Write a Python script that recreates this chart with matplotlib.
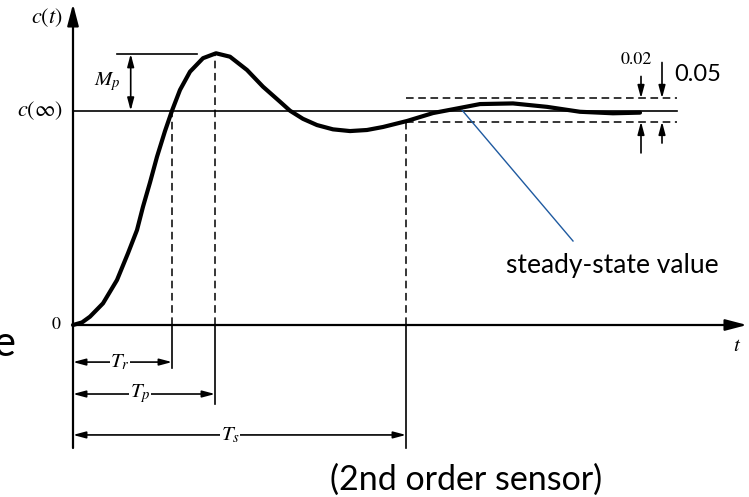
import matplotlib
matplotlib.use("Agg")
import matplotlib.pyplot as plt

plt.rcParams['mathtext.fontset'] = 'stix'

# step response: time and normalised output c(t)/c(inf)
t_curve = [0, 0.09, 0.17, 0.30, 0.44, 0.55, 0.64, 0.70, 0.77, 0.84, 0.92, 0.99, 1.07,
           1.17, 1.30, 1.43, 1.57, 1.74, 1.90, 2.07, 2.17, 2.30, 2.44, 2.60, 2.77,
           2.94, 3.10, 3.34, 3.60, 3.87, 4.07, 4.40, 4.74, 5.07, 5.40, 5.67]
c_curve = [0, 0.012, 0.039, 0.101, 0.210, 0.335, 0.443, 0.552, 0.665, 0.785, 0.905, 1.0, 1.097,
           1.182, 1.245, 1.268, 1.252, 1.190, 1.112, 1.042, 1.0, 0.962, 0.933, 0.913, 0.905,
           0.910, 0.924, 0.952, 0.989, 1.013, 1.031, 1.034, 1.018, 0.995, 0.988, 0.991]

c_final = 1.0
c_peak = 1.265
t_rise = 0.99
t_peak = 1.42
t_settle = 3.33
band_hi = 1.058
band_lo = 0.949
t_end = 6.04

fig = plt.figure(figsize=(7.49, 4.97), dpi=100)
ax = fig.add_axes([0, 0, 1, 1])
ax.set_xlim(-0.73, 6.76)
ax.set_ylim(-0.8026, 1.5166)
ax.axis('off')

black = 'black'
big_head = '-|>,head_length=0.65,head_width=0.17'
dim_head = '<|-|>,head_length=0.75,head_width=0.2'
one_head = '-|>,head_length=0.75,head_width=0.2'

def arrow(x0, y0, x1, y1, style, ms=20, lw=1.2):
    ax.annotate('', xy=(x1, y1), xytext=(x0, y0),
                arrowprops=dict(arrowstyle=style, mutation_scale=ms, lw=lw,
                                color=black, shrinkA=0, shrinkB=0))

# axes
arrow(0, -0.574, 0, 1.498, big_head, lw=1.6)
arrow(0, 0, 6.74, 0, big_head, lw=1.6)

# reference lines
ax.plot([0, t_end], [c_final, c_final], color=black, lw=1.2)
ax.plot([t_settle, t_end], [band_hi, band_hi], color=black, lw=1.1, dashes=(5, 3))
ax.plot([t_settle, t_end], [band_lo, band_lo], color=black, lw=1.1, dashes=(5, 3))

# dashed drops
ax.plot([t_rise, t_rise], [0, c_final], color=black, lw=1.1, dashes=(5, 3))
ax.plot([t_peak, t_peak], [0, c_peak], color=black, lw=1.1, dashes=(5, 3))
ax.plot([t_settle, t_settle], [0, 0.952], color=black, lw=1.1, dashes=(5, 3))

# solid drops below the axis
ax.plot([t_rise, t_rise], [0, -0.200], color=black, lw=1.2)
ax.plot([t_peak, t_peak], [0, -0.369], color=black, lw=1.2)
ax.plot([t_settle, t_settle], [0, -0.574], color=black, lw=1.2)

# response curve
ax.plot(t_curve, c_curve, color=black, lw=3.0, solid_joinstyle='round',
        solid_capstyle='round', zorder=5)

# overshoot
ax.plot([0.44, 1.24], [c_peak, c_peak], color=black, lw=1.2)
arrow(0.577, c_final, 0.577, c_peak, dim_head, ms=10, lw=1.2)
ax.text(0.48, 1.135, r'$M_p$', fontsize=15, ha='right', va='center')

# time dimensions
serif = dict(fontsize=15, ha='center', va='center',
             bbox=dict(fc='white', ec='none', pad=0.5), zorder=6)
arrow(0, -0.173, t_rise, -0.173, dim_head, ms=10, lw=1.2)
ax.text(0.47, -0.173, r'$T_r$', **serif)
arrow(0, -0.322, t_peak, -0.322, dim_head, ms=10, lw=1.2)
ax.text(0.67, -0.322, r'$T_p$', **serif)
arrow(0, -0.513, t_settle, -0.513, dim_head, ms=10, lw=1.2)
ax.text(1.57, -0.513, r'$T_s$', **serif)

# tolerance arrows
arrow(5.68, 1.16, 5.68, band_hi, one_head, ms=10, lw=1.2)
arrow(5.68, 0.803, 5.68, band_lo, one_head, ms=10, lw=1.2)
arrow(5.89, 1.225, 5.89, band_hi, one_head, ms=10, lw=1.2)
arrow(5.89, 0.849, 5.89, band_lo, one_head, ms=10, lw=1.2)
ax.text(5.63, 1.235, '0.02', fontsize=13, family='STIXGeneral', ha='center', va='center')
ax.text(6.01, 1.167, '0.05', fontsize=17, family='Lato', ha='left', va='center')

# axis labels
ax.text(-0.26, 1.435, r'$c(t)$', fontsize=16, ha='center', va='center')
ax.text(-0.33, c_final, r'$c(\infty)$', fontsize=16, ha='center', va='center')
ax.text(-0.17, 0.0, '0', fontsize=13, family='STIXGeneral', ha='center', va='center')
ax.text(6.64, -0.093, r'$t$', fontsize=15, ha='center', va='center')

# annotation
ax.plot([3.89, 5.0], [1.003, 0.392], color='#1f5aa0', lw=1.0)
ax.text(5.39, 0.28, 'steady-state value', fontsize=19, family='Lato', ha='center', va='center')
ax.text(3.93, -0.72, '(2nd order sensor)', fontsize=24.5, family='Lato', ha='center', va='center')
ax.text(-0.58, -0.09, 'e', fontsize=30, family='Lato', ha='right', va='center')

fig.savefig('out.png', dpi=100)
